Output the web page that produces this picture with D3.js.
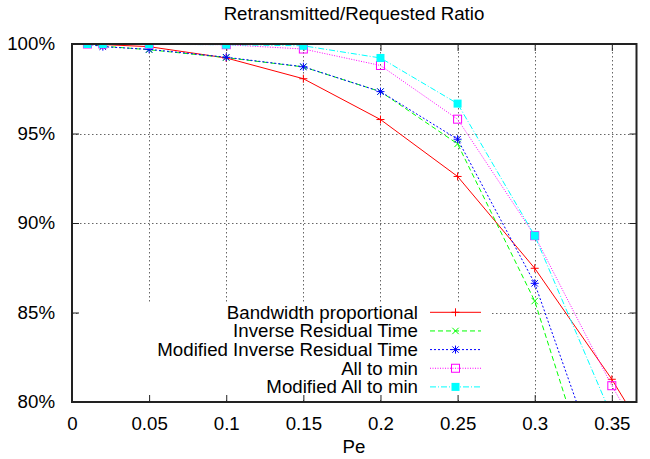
<!DOCTYPE html>
<html>
<head>
<meta charset="utf-8">
<script src="https://cdn.jsdelivr.net/npm/d3@7"></script>
<style>
	body { margin: 0; background: #fff; }
	text { font-family: "Liberation Sans", Arial, sans-serif; fill: #000; }
</style>
</head>
<body>
<div id="chart"></div>
<script>
	// DATA (Pe vs ratio in %)
	var pe = [0.01, 0.02, 0.05, 0.1, 0.15, 0.2, 0.25, 0.3, 0.35, 0.4];

	var bandwidthProp = [100, 99.97, 99.85, 99.22, 98.06, 95.78, 92.6, 87.47, 81.27, 74.2];
	var invResidual = [100, 99.88, 99.68, 99.24, 98.72, 97.34, 94.42, 85.64, 72.0];
	var modInvResidual = [100, 99.85, 99.7, 99.26, 98.73, 97.34, 94.68, 86.63, 74.4];
	var allToMin = [100, 100, 99.98, 99.96, 99.72, 98.8, 95.8, 89.29, 80.91, 73.5];
	var modAllToMin = [100, 100, 99.98, 99.96, 99.9, 99.22, 96.67, 89.29, 79.2];

	var xTicks = [0, 0.05, 0.1, 0.15, 0.2, 0.25, 0.3, 0.35];
	var yTicks = [80, 85, 90, 95, 100];

	var seriesNames = ['Bandwidth proportional', 'Inverse Residual Time',
		'Modified Inverse Residual Time', 'All to min', 'Modified All to min'];
	var seriesValues = [bandwidthProp, invResidual, modInvResidual, allToMin, modAllToMin];

	// look of each series, gnuplot style
	var styles = [
		{ color: '#ff0000', dash: null, marker: 'plus' },
		{ color: '#00ff00', dash: '5,3', marker: 'cross' },
		{ color: '#0000ff', dash: '2,2', marker: 'star' },
		{ color: '#ff00ff', dash: '1,1.5', marker: 'box' },
		{ color: '#00ffff', dash: '6,2,1,2', marker: 'fbox' }
	];

	var W = 650, H = 459;
	var pLeft = 72, pRight = 636.5, pTop = 44, pBottom = 402;
	var fs = 18.7; // font size

	var x = d3.scaleLinear().domain([0, 0.366]).range([pLeft, pRight]);
	var y = d3.scaleLinear().domain([80, 100]).range([pBottom, pTop]);

	var svg = d3.select('#chart').append('svg')
		.attr('width', W)
		.attr('height', H);

	svg.append('defs').append('clipPath').attr('id', 'plot')
		.append('rect')
		.attr('x', pLeft).attr('y', pTop)
		.attr('width', pRight - pLeft).attr('height', pBottom - pTop);

	// grid
	var grid = svg.append('g').attr('stroke', '#666').attr('stroke-width', 1)
		.attr('stroke-dasharray', '1.5,2.5');
	grid.selectAll('line.v').data(xTicks.slice(1)).enter().append('line')
		.attr('x1', d => Math.round(x(d)) + 0.5).attr('x2', d => Math.round(x(d)) + 0.5)
		.attr('y1', pTop).attr('y2', pBottom);
	grid.selectAll('line.h').data(yTicks.slice(1, -1)).enter().append('line')
		.attr('y1', d => Math.round(y(d)) + 0.5).attr('y2', d => Math.round(y(d)) + 0.5)
		.attr('x1', pLeft).attr('x2', pRight);

	// key area is cleared over the grid
	svg.append('rect')
		.attr('x', 80).attr('y', 303)
		.attr('width', 411).attr('height', 95)
		.attr('fill', '#fff');

	// axes with inside ticks, mirrored
	var axB = d3.axisBottom(x).tickValues(xTicks).tickSize(-7).tickPadding(15).tickFormat(d3.format('~g'));
	var axT = d3.axisTop(x).tickValues(xTicks).tickSize(-7).tickFormat('');
	var axL = d3.axisLeft(y).tickValues(yTicks).tickSize(-7).tickPadding(17).tickFormat(d => d + '%');
	var axR = d3.axisRight(y).tickValues(yTicks).tickSize(-7).tickFormat('');

	function styleAxis(g) {
		g.select('.domain').remove();
		g.selectAll('.tick line').attr('stroke', '#222').attr('stroke-width', 1);
		g.selectAll('.tick text').attr('font-size', fs)
			.attr('font-family', '"Liberation Sans", Arial, sans-serif').attr('fill', '#000');
	}
	svg.append('g').attr('transform', `translate(0,${pBottom})`).call(axB).call(styleAxis);
	svg.append('g').attr('transform', `translate(0,${pTop})`).call(axT).call(styleAxis);
	svg.append('g').attr('transform', `translate(${pLeft},0)`).call(axL).call(styleAxis);
	svg.append('g').attr('transform', `translate(${pRight},0)`).call(axR).call(styleAxis);

	// markers
	function drawMarker(g, kind, cx, cy, color) {
		var s = 4;
		if (kind == 'plus' || kind == 'star') {
			g.append('path').attr('d', `M${cx - s},${cy}H${cx + s}M${cx},${cy - s}V${cy + s}`)
				.attr('stroke', color).attr('stroke-width', 1).attr('fill', 'none');
		}
		if (kind == 'cross' || kind == 'star') {
			var t = 3.2;
			g.append('path').attr('d', `M${cx - t},${cy - t}L${cx + t},${cy + t}M${cx - t},${cy + t}L${cx + t},${cy - t}`)
				.attr('stroke', color).attr('stroke-width', 1).attr('fill', 'none');
		}
		if (kind == 'box') {
			g.append('rect').attr('x', cx - 4).attr('y', cy - 4).attr('width', 8).attr('height', 8)
				.attr('stroke', color).attr('stroke-width', 1).attr('fill', 'none');
		}
		if (kind == 'fbox') {
			g.append('rect').attr('x', cx - 4).attr('y', cy - 4).attr('width', 8).attr('height', 8)
				.attr('fill', color);
		}
	}

	var line = d3.line()
		.x((d, i) => x(pe[i]))
		.y(d => y(d));

	var plot = svg.append('g').attr('clip-path', 'url(#plot)');

	seriesValues.forEach((vals, k) => {
		var st = styles[k];
		plot.append('path')
			.datum(vals)
			.attr('d', line)
			.attr('fill', 'none')
			.attr('stroke', st.color)
			.attr('stroke-width', 1)
			.attr('stroke-dasharray', st.dash);
		vals.forEach((v, i) => {
			drawMarker(plot, st.marker, x(pe[i]), y(v), st.color);
		});
	});

	// key
	var key = svg.append('g');
	seriesNames.forEach((name, k) => {
		var st = styles[k];
		var ky = 312.3 + k * 18.65;
		key.append('text')
			.attr('x', 418).attr('y', ky + 6.5)
			.attr('text-anchor', 'end')
			.attr('font-size', fs)
			.text(name);
		key.append('line')
			.attr('x1', 430).attr('x2', 481)
			.attr('y1', ky).attr('y2', ky)
			.attr('stroke', st.color).attr('stroke-width', 1)
			.attr('stroke-dasharray', st.dash);
		drawMarker(key, st.marker, 455.5, ky, st.color);
	});

	// border
	svg.append('rect')
		.attr('x', pLeft).attr('y', pTop)
		.attr('width', pRight - pLeft).attr('height', pBottom - pTop)
		.attr('fill', 'none')
		.attr('stroke', '#222')
		.attr('stroke-width', 2);

	// title and x label
	svg.append('text')
		.attr('x', 354).attr('y', 20)
		.attr('text-anchor', 'middle')
		.attr('font-size', fs)
		.text('Retransmitted/Requested Ratio');

	svg.append('text')
		.attr('x', 354).attr('y', 453)
		.attr('text-anchor', 'middle')
		.attr('font-size', fs)
		.text('Pe');
</script>
</body>
</html>
